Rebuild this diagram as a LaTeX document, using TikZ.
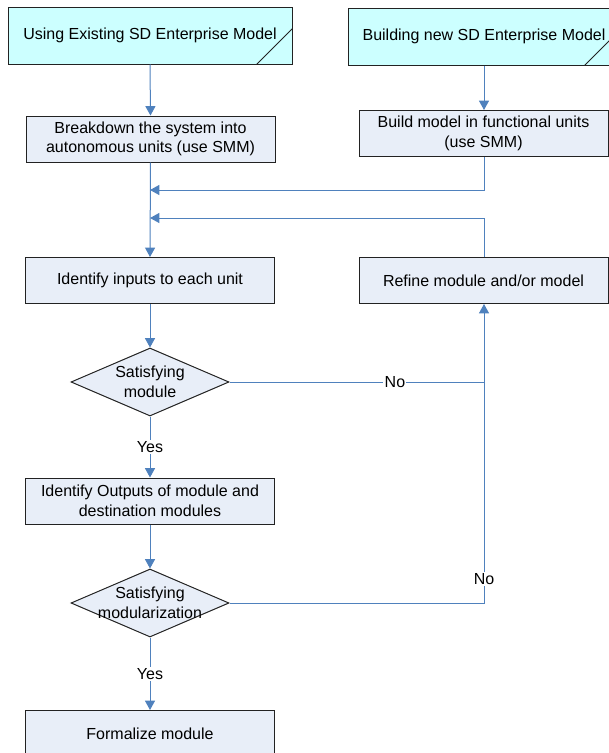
\documentclass[tikz,border=0pt]{standalone}
\usepackage{fontspec}
\setmainfont{Liberation Sans}
\usetikzlibrary{arrows.meta,shapes.geometric}
\definecolor{ln}{HTML}{4F81BD}
\definecolor{cy}{HTML}{CCFFFF}
\definecolor{bx}{HTML}{E8EEF8}
\definecolor{bd}{HTML}{222222}
\begin{document}
\begin{tikzpicture}[x=0.75pt,y=-0.75pt,
  every node/.style={font=\fontsize{12pt}{14.6pt}\selectfont, inner sep=0pt, align=center},
  proc/.style={draw=bd, fill=bx, line width=0.75pt, minimum width=186.75pt, minimum height=34.5pt},
  term/.style={draw=bd, fill=cy, line width=0.75pt, minimum height=42.75pt},
  dec/.style={diamond, draw=bd, fill=bx, line width=0.75pt, minimum width=118.5pt, minimum height=51pt},
  conn/.style={draw=ln, line width=0.75pt},
  arr/.style={conn, -{Triangle[width=7.5pt,length=7pt]}},
  lbl/.style={fill=white, inner sep=1pt}]
\useasboundingbox (0,0) rectangle (609,753);
\clip (0,0) rectangle (609,753);

% nodes
\node[term, minimum width=213pt] (use) at (150,35.5) {Using Existing SD Enterprise Model};
\node[term, minimum width=204pt] (bnew) at (484,36.5) {Building new SD Enterprise Model};
\draw[bd, line width=0.75pt] ([xshift=-27pt]use.south east) -- ([yshift=27pt]use.south east);
\draw[bd, line width=0.75pt] ([xshift=-27pt]bnew.south east) -- ([yshift=27pt]bnew.south east);

\node[proc] (brk) at (150.5,139) {Breakdown the system into\\autonomous units (use SMM)};
\node[proc] (bfu) at (483.5,133.5) {Build model in functional units\\(use SMM)};
\node[proc] (inp) at (150,280.5) {Identify inputs to each unit};
\node[proc] (ref) at (483.5,280.5) {Refine module and/or model};
\node[dec, label={[align=center]center:Satisfying\\module}] (d1) at (150,382) {};
\node[proc] (out) at (150,501) {Identify Outputs of module and\\destination modules};
\node[dec, label={[align=center]center:Satisfying\\modularization}] (d2) at (150,603) {};
\node[proc] (frm) at (150,733.5) {Formalize module};

\coordinate (j1) at (150,190);
\coordinate (j2) at (150,218);
\coordinate (c1) at (484,190);
\coordinate (c2) at (484,218);
\coordinate (c3) at (484,382);
\coordinate (c4) at (484,603);

% connectors
\draw[arr] (use.south) -- (brk.north);
\draw[arr] (bnew.south -| c1) -- (bfu.north -| c1);
\draw[arr] (brk.south) -- (inp.north);
\draw[arr] (bfu.south -| c1) -- (c1) -- (j1);
\draw[arr] (ref.north -| c2) -- (c2) -- (j2);
\draw[arr] (inp.south) -- (d1.north);
\draw[arr] (d1.east) -- node[lbl, pos=0.65] (no1) {No} (c3) -- (ref.south -| c3);
\draw[arr] (d1.south) -- node[lbl, pos=0.5] (yes1) {Yes} (out.north);
\draw[arr] (out.south) -- (d2.north);
\draw[conn] (d2.east) -- (c4) -- node[lbl, pos=0.11] (no2) {No} (c3);
\draw[arr] (d2.south) -- node[lbl, pos=0.5] (yes2) {Yes} (frm.north);
\end{tikzpicture}
\end{document}
